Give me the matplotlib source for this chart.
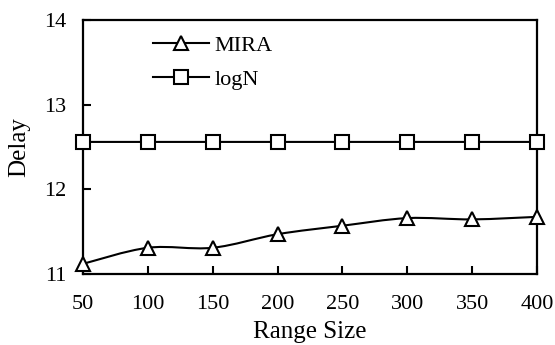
import matplotlib
matplotlib.use("Agg")
import matplotlib.pyplot as plt
import numpy as np
from matplotlib.path import Path
from matplotlib.patches import PathPatch

range_size = [50, 100, 150, 200, 250, 300, 350, 400]
mira = [11.12, 11.31, 11.31, 11.47, 11.57, 11.66, 11.645, 11.675]
logn = [12.56, 12.56, 12.56, 12.56, 12.56, 12.56, 12.56, 12.56]
xticks = [50, 100, 150, 200, 250, 300, 350, 400]
yticks = [11, 12, 13, 14]

plt.rcParams['font.family'] = ['Liberation Serif']

fig = plt.figure(figsize=(5.55, 3.45), dpi=100)
ax = fig.add_axes([83/555, 1 - 274/345, 454/555, 254/345])


def smooth_path(xs, ys, t=1/6):
    xs = np.asarray(xs, float); ys = np.asarray(ys, float)
    verts = [(xs[0], ys[0])]
    codes = [Path.MOVETO]
    n = len(xs)
    for i in range(n - 1):
        x0, y0 = (xs[i-1], ys[i-1]) if i > 0 else (xs[i], ys[i])
        x3, y3 = (xs[i+2], ys[i+2]) if i + 2 < n else (xs[i+1], ys[i+1])
        c1 = (xs[i] + (xs[i+1] - x0) * t, ys[i] + (ys[i+1] - y0) * t)
        c2 = (xs[i+1] - (x3 - xs[i]) * t, ys[i+1] - (y3 - ys[i]) * t)
        verts += [c1, c2, (xs[i+1], ys[i+1])]
        codes += [Path.CURVE4] * 3
    return Path(verts, codes)


LW = 1.5
for ys in (mira, logn):
    ax.add_patch(PathPatch(smooth_path(range_size, ys), facecolor='none',
                           edgecolor='black', lw=LW, transform=ax.transData,
                           clip_on=False, zorder=2))

ax.plot(range_size, mira, linestyle='none', marker='^', markersize=10,
        markerfacecolor='white', markeredgecolor='black', markeredgewidth=LW,
        clip_on=False, zorder=3)
ax.plot(range_size, logn, linestyle='none', marker='s', markersize=10,
        markerfacecolor='white', markeredgecolor='black', markeredgewidth=LW,
        clip_on=False, zorder=3)

# legend handles
ax.plot([], [], color='black', lw=LW, marker='^', markersize=10,
        markerfacecolor='white', markeredgewidth=LW, label='MIRA')
ax.plot([], [], color='black', lw=LW, marker='s', markersize=10,
        markerfacecolor='white', markeredgewidth=LW, label='logN')
h, l = ax.get_legend_handles_labels()
ax.legend(h[-2:], l[-2:], loc='upper left', bbox_to_anchor=(0.135, 0.975),
          frameon=False, fontsize=16, handlelength=2.5, handletextpad=0.25,
          labelspacing=0.6, borderaxespad=0)

ax.set_xlim(50, 400)
ax.set_ylim(11, 14)
ax.set_xticks(xticks)
ax.set_yticks(yticks)
ax.tick_params(direction='in', length=6, width=1.5, labelsize=16,
               colors='black')
ax.tick_params(axis='x', pad=15)
ax.tick_params(axis='y', pad=12)
for s in ax.spines.values():
    s.set_linewidth(1.6)
ax.set_xlabel('Range Size', fontsize=18, labelpad=5)
ax.set_ylabel('Delay', fontsize=18, labelpad=10)

fig.savefig('out.png', dpi=100)
